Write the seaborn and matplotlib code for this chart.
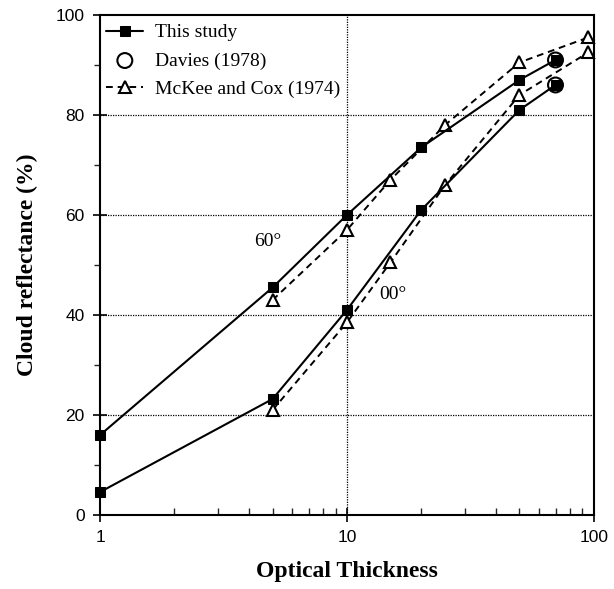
import pandas as pd
import matplotlib.pyplot as plt
import matplotlib.ticker as mticker
import seaborn as sns

# --- date ---
grosime_studiu = [1, 5, 10, 20, 50, 70]
studiu_60 = [16, 45.5, 60, 73.5, 87, 91]
studiu_00 = [4.6, 23.2, 41, 61, 81, 86]

grosime_davies = [70, 70]
davies = [91, 86]

grosime_mckee = [5, 10, 15, 25, 50, 95]
mckee_60 = [43, 57, 67, 78, 90.5, 95.5]
mckee_00 = [21, 38.5, 50.5, 66, 84, 92.5]

ticks_y = [0, 20, 40, 60, 80, 100]
ticks_x = [1, 10, 100]


def run_plot():
    sns.set_theme(style="white")
    plt.rcParams['text.color'] = 'black'
    plt.rcParams['axes.labelcolor'] = 'black'
    serif = ['Liberation Serif', 'DejaVu Serif']
    sans = ['Liberation Sans', 'DejaVu Sans']

    fig = plt.figure(figsize=(6.14, 5.89), dpi=100)
    ax = fig.add_axes([0.163, 0.1256, 0.804, 0.849])

    df_s60 = pd.DataFrame({'x': grosime_studiu, 'y': studiu_60})
    df_s00 = pd.DataFrame({'x': grosime_studiu, 'y': studiu_00})
    df_m60 = pd.DataFrame({'x': grosime_mckee, 'y': mckee_60})
    df_m00 = pd.DataFrame({'x': grosime_mckee, 'y': mckee_00})

    # McKee and Cox - linie punctata cu triunghiuri goale
    for i, d in enumerate([df_m60, df_m00]):
        sns.lineplot(data=d, x='x', y='y', ax=ax, color='black', lw=1.4,
                     linestyle=(0, (3.5, 2.5)), marker='^', markersize=8.5,
                     markerfacecolor='white', markeredgecolor='black',
                     markeredgewidth=1.5, sort=False, zorder=3, clip_on=False,
                     label='McKee and Cox (1974)' if i == 0 else None)

    # Studiul de fata - linie continua cu patrate pline
    for i, d in enumerate([df_s60, df_s00]):
        sns.lineplot(data=d, x='x', y='y', ax=ax, color='black', lw=1.5,
                     marker='s', markersize=7, markerfacecolor='black',
                     markeredgecolor='black', sort=False, zorder=4, clip_on=False,
                     label='This study' if i == 0 else None)

    # Davies - cercuri goale
    df_d = pd.DataFrame({'x': grosime_davies, 'y': davies})
    sns.scatterplot(data=df_d, x='x', y='y', ax=ax, s=115, facecolor='none',
                    edgecolor='black', linewidth=1.5, zorder=5,
                    label='Davies (1978)')

    ax.set_xscale('log')
    ax.set_xlim(1, 100)
    ax.set_ylim(0, 100)
    ax.set_xticks(ticks_x)
    ax.xaxis.set_major_formatter(mticker.FuncFormatter(lambda v, p: f'{v:g}'))
    ax.xaxis.set_minor_locator(mticker.LogLocator(base=10, subs=range(2, 10)))
    ax.xaxis.set_minor_formatter(mticker.NullFormatter())
    ax.set_yticks(ticks_y)
    ax.yaxis.set_minor_locator(mticker.MultipleLocator(10))

    ax.tick_params(axis='both', which='major', direction='inout', length=10,
                   width=1.2, colors='black', labelsize=12.5, pad=6)
    ax.tick_params(axis='x', which='minor', direction='in', length=5, width=1)
    ax.tick_params(axis='y', which='minor', direction='out', length=4, width=1)
    ax.tick_params(bottom=True, left=True, which='both')
    for lab in ax.get_xticklabels() + ax.get_yticklabels():
        lab.set_family(sans)

    # grila punctata doar la valorile majore interioare
    for v in [20, 40, 60, 80]:
        ax.axhline(v, color='black', lw=0.9, linestyle=(0, (1, 1)), zorder=1)
    ax.axvline(10, color='black', lw=0.9, linestyle=(0, (1, 1)), zorder=1)

    for s in ax.spines.values():
        s.set_color('black')
        s.set_linewidth(1.5)

    ax.set_xlabel('Optical Thickness', fontsize=17, family=serif,
                  fontweight='bold', labelpad=11)
    ax.set_ylabel('Cloud reflectance (%)', fontsize=17, family=serif,
                  fontweight='bold', labelpad=13)

    ax.text(4.8, 54.6, '60°', fontsize=14, family=serif, ha='center', va='center')
    ax.text(15.4, 44, '00°', fontsize=14, family=serif, ha='center', va='center')

    h, l = ax.get_legend_handles_labels()
    ordine = [l.index('This study'), l.index('Davies (1978)'), l.index('McKee and Cox (1974)')]
    ax.legend([h[i] for i in ordine], [l[i] for i in ordine], loc='upper left',
              bbox_to_anchor=(-0.005, 1.0), frameon=False,
              prop={'family': serif, 'size': 14},
              handlelength=1.9, labelspacing=0.55, borderaxespad=0.15,
              borderpad=0.3, handletextpad=0.6)

    fig.savefig('out.png', dpi=100)
    plt.close(fig)


if __name__ == "__main__":
    run_plot()
